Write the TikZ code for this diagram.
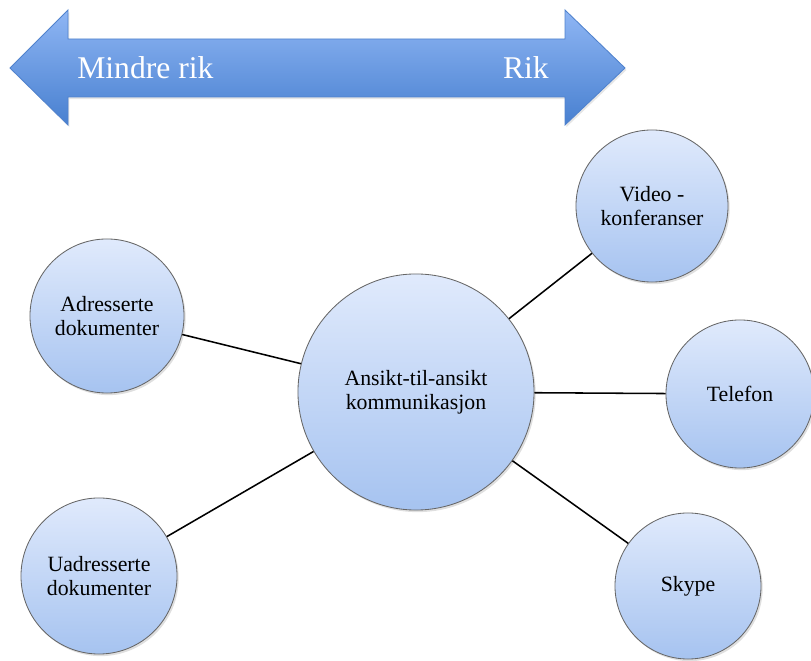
\documentclass[tikz,border=0pt]{standalone}
\usepackage{fontspec}
\setmainfont{Liberation Serif}
\newfontfamily\timesfont{Liberation Serif}
\usetikzlibrary{positioning,shadows}
\definecolor{arrowtop}{RGB}{143,182,244}
\definecolor{arrowbot}{RGB}{72,128,208}
\definecolor{arrowline}{RGB}{80,130,205}
\definecolor{bubtop}{RGB}{224,234,252}
\definecolor{bubbot}{RGB}{166,195,240}

\begin{document}
\begin{tikzpicture}[x=0.025cm,y=-0.025cm,
    bub/.style={circle,draw=gray!80!black,line width=0.6pt,top color=bubtop,bottom color=bubbot,
      minimum size=3.8cm,inner sep=0pt,align=center,font=\timesfont\fontsize{15.5}{17}\selectfont,
      drop shadow={shadow xshift=1.2pt,shadow yshift=-1.5pt,opacity=0.25}},
    link/.style={line width=1.1pt,black}]
  \useasboundingbox (0,0) rectangle (811,661);
  % double arrow: Mindre rik -- Rik
  \shade[top color=arrowtop,bottom color=arrowbot,draw=arrowline,line width=0.6pt,
    drop shadow={shadow xshift=1pt,shadow yshift=-1.5pt,opacity=0.2}]
    (10,68) -- (68,10) -- (68,39) -- (565,39) -- (565,10) -- (625,68)
    -- (565,125) -- (565,97) -- (68,97) -- (68,125) -- cycle;
  \node[anchor=west,text=white,inner sep=0pt,font=\timesfont\fontsize{22.5}{26}\selectfont] (less) at (77,68) {Mindre rik};
  \node[anchor=east,text=white,inner sep=0pt,font=\timesfont\fontsize{22.5}{26}\selectfont] (rich) at (549,68) {Rik};
  % bubbles
  \node[bub,minimum size=5.9cm] (ftf) at (416,392) {Ansikt-til-ansikt\\kommunikasjon};
  \node[bub] (video) at (652,206) {Video -\\konferanser};
  \node[bub,minimum size=3.7cm] (tlf) at (740,394) {Telefon};
  \node[bub,minimum size=3.65cm] (skype) at (688,586) {Skype};
  \node[bub,minimum size=3.85cm] (adr) at (107,316) {Adresserte\\dokumenter};
  \node[bub,minimum size=3.9cm] (uadr) at (99,576) {Uadresserte\\dokumenter};
  % links
  \draw[link] (ftf) -- (video);
  \draw[link] (ftf) -- (tlf);
  \draw[link] (ftf) -- (skype);
  \draw[link] (ftf) -- (adr);
  \draw[link] (ftf) -- (uadr);
\end{tikzpicture}
\end{document}
